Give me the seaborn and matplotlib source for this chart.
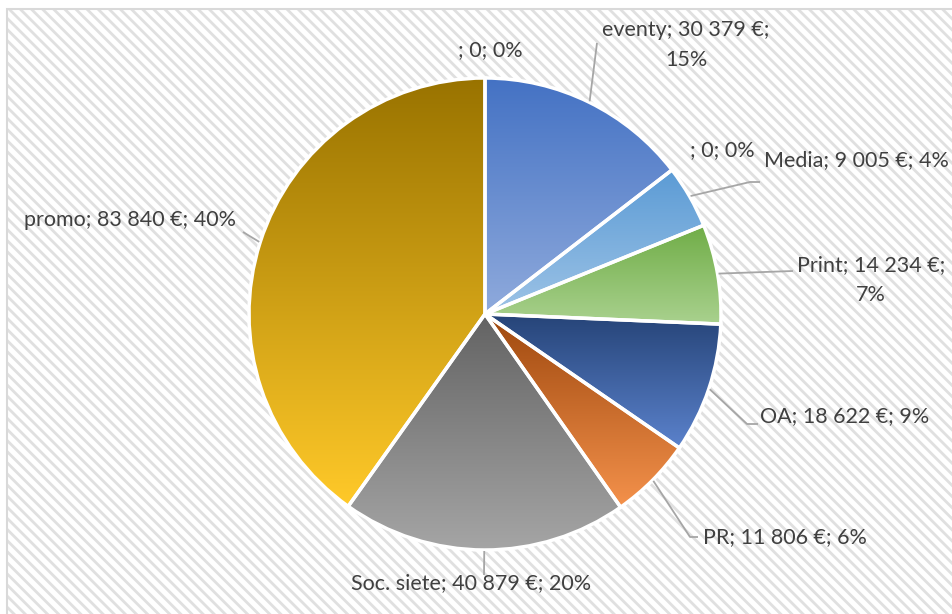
import numpy as np
import matplotlib
matplotlib.use("Agg")
import matplotlib.pyplot as plt
from matplotlib.patches import Rectangle
import seaborn as sns

# slices, clockwise from 12 o'clock
names = ["eventy", "", "Media", "Print", "OA", "PR", "Soc. siete", "promo", ""]
values = [30379, 0, 9005, 14234, 18622, 11806, 40879, 83840, 0]
labels = ["eventy; 30 379 €;\n15%", "; 0; 0%", "Media; 9 005 €; 4%", "Print; 14 234 €;\n7%",
          "OA; 18 622 €; 9%", "PR; 11 806 €; 6%", "Soc. siete; 40 879 €; 20%",
          "promo; 83 840 €; 40%", "; 0; 0%"]
# gradient top -> bottom
grad_top = ["#4472C4", "#5B9BD5", "#5B9BD5", "#70AD47", "#264478", "#9E480E", "#636363", "#997300", "#997300"]
grad_bot = ["#8FAADC", "#9DC3E6", "#9DC3E6", "#A9D18E", "#5B82CC", "#F4914B", "#A5A5A5", "#FFC929", "#FFC929"]

sns.set_style("white")
plt.rcParams["font.family"] = ["Lato", "DejaVu Sans"]
plt.rcParams["hatch.linewidth"] = 2.0

W, H = 952, 614
fig = plt.figure(figsize=(W / 100, H / 100), dpi=100)
ax = fig.add_axes([0, 0, 1, 1])

cx, cy, r = 485, 300, 236
wedges, _ = ax.pie(values, center=(cx, cy), radius=r, startangle=90, counterclock=False,
                   colors=grad_top, wedgeprops=dict(edgecolor="white", linewidth=2.5),
                   normalize=True, frame=True)
ax.set_xlim(0, W)
ax.set_ylim(0, H)
ax.set_aspect("equal")
ax.axis("off")

# background with diagonal stripes + border
ax.add_patch(Rectangle((7, -5), 950, 610, facecolor="white", edgecolor="#E0E0E0",
                       hatch="\\\\\\", linewidth=0, zorder=0))
ax.add_patch(Rectangle((7, -5), 950, 610, facecolor="none", edgecolor="#D9D9D9",
                       linewidth=1.5, zorder=5))

for w, c0, c1 in zip(wedges, grad_top, grad_bot):
    if w.theta2 - w.theta1 <= 0:
        continue
    bb = w.get_path().get_extents(w.get_patch_transform())
    cols = np.array(sns.blend_palette([c0, c1], 128, as_cmap=False))[:, None, :]
    im = ax.imshow(cols, extent=[bb.x0, bb.x1, bb.y0, bb.y1], origin="upper",
                   aspect="auto", zorder=1, interpolation="bilinear")
    im.set_clip_path(w)
    w.set_facecolor("none")
    w.set_zorder(2)

ax.set_xlim(0, W)
ax.set_ylim(0, H)

# label positions (image pixels, top-left origin) and leader line elbows
txt = dict(color="#404040", fontsize=15.5, zorder=6, va="center", linespacing=1.6)
label_pos = [(686, 45), (722, 150), (856, 160), (871, 280), (845, 416),
             (785, 537), (471, 583), (130, 220), (490, 50)]
elbows = [[(597, 43)], None, [(750, 182), (760, 182)], [(793, 271)], [(747, 424), (758, 424)],
          [(690, 537), (698, 537)], [(484, 575)], [(243, 232)], None]

for w, lab, (lx, ly), el in zip(wedges, labels, label_pos, elbows):
    ax.text(lx, H - ly, lab, ha="center", **txt)
    if el is None:
        continue
    mid = np.deg2rad((w.theta1 + w.theta2) / 2)
    pts = [(cx + (r + 1) * np.cos(mid), cy + (r + 1) * np.sin(mid))] + [(x, H - y) for x, y in el]
    xs, ys = zip(*pts)
    ax.plot(xs, ys, color="#A6A6A6", linewidth=1.3, zorder=4, solid_capstyle="butt")

fig.savefig("out.png", dpi=100)
